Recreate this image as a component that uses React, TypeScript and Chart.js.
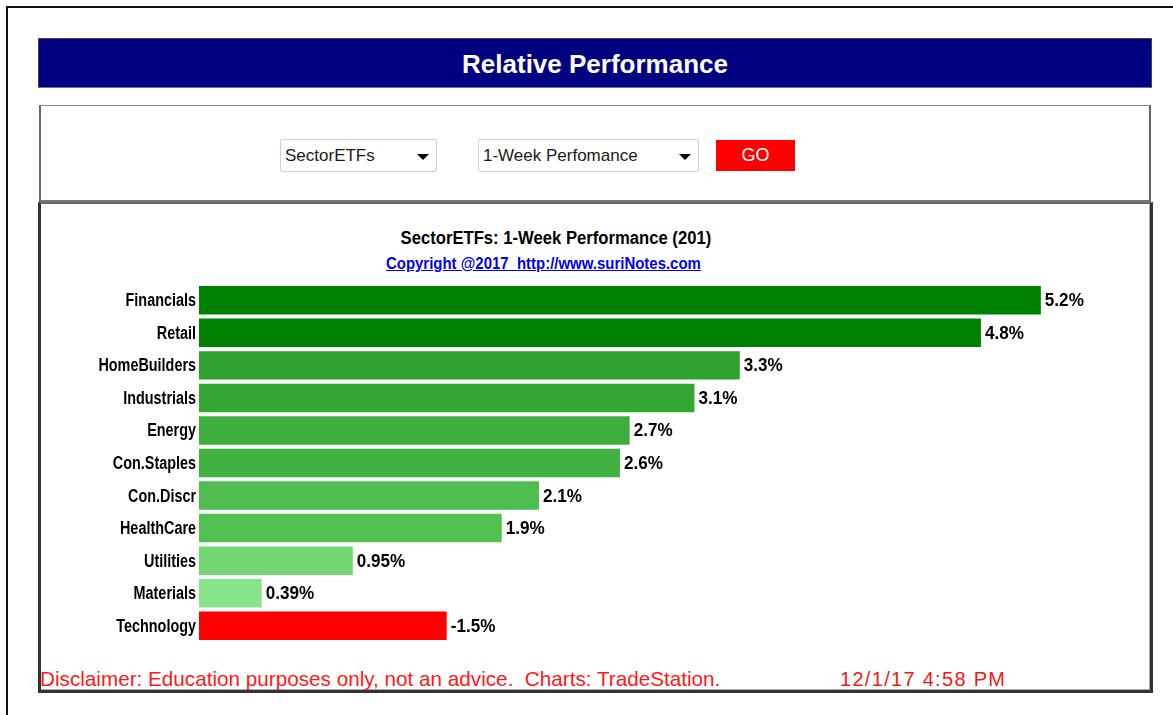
import React, { useEffect, useRef } from "react";
import { Chart, registerables } from "chart.js";

Chart.register(...registerables);

const categories = [
  "Financials",
  "Retail",
  "HomeBuilders",
  "Industrials",
  "Energy",
  "Con.Staples",
  "Con.Discr",
  "HealthCare",
  "Utilities",
  "Materials",
  "Technology",
];

const performance = [5.2, 4.83, 3.34, 3.06, 2.66, 2.6, 2.1, 1.87, 0.95, 0.387, -1.53];

const barColors = [
  "#008000",
  "#008000",
  "#2ea12e",
  "#34a634",
  "#3eaf3e",
  "#41b141",
  "#50bd50",
  "#53bf53",
  "#72d772",
  "#88e488",
  "#ff0000",
];

const xMax = 5.8;

const SANS = '"Liberation Sans", Arial, sans-serif';

const fmt = (v: number) => parseFloat(v.toPrecision(2)).toString() + "%";

const labelsPlugin = {
  id: "labelsPlugin",
  afterDatasetsDraw(chart: any) {
    const ctx = chart.ctx;
    const meta = chart.getDatasetMeta(0);
    const yScale = chart.scales.y;
    const left = chart.chartArea.left;
    ctx.save();
    ctx.font = `bold 18px ${SANS}`;
    ctx.fillStyle = "#000";
    ctx.textBaseline = "middle";
    // category labels (condensed)
    categories.forEach((c, i) => {
      const y = yScale.getPixelForValue(i);
      ctx.save();
      ctx.translate(left - 3, y + 1);
      ctx.scale(0.8, 1);
      ctx.textAlign = "right";
      ctx.fillText(c, 0, 0);
      ctx.restore();
    });
    // value labels
    meta.data.forEach((bar: any, i: number) => {
      ctx.save();
      ctx.translate(bar.x + 4, bar.y + 1);
      ctx.scale(0.95, 1);
      ctx.textAlign = "left";
      ctx.fillText(fmt(performance[i]), 0, 0);
      ctx.restore();
    });
    ctx.restore();
  },
};

function BarChart() {
  const ref = useRef<HTMLCanvasElement | null>(null);
  useEffect(() => {
    if (!ref.current) return;
    const chart = new Chart(ref.current, {
      type: "bar",
      data: {
        labels: categories,
        datasets: [
          {
            data: performance.map((v) => Math.abs(v)),
            backgroundColor: barColors,
            borderWidth: 0,
            barPercentage: 0.875,
            categoryPercentage: 1,
          },
        ],
      },
      options: {
        indexAxis: "y",
        animation: false,
        responsive: false,
        maintainAspectRatio: false,
        layout: { padding: { top: 4, bottom: 4, right: 12, left: 159 } },
        plugins: {
          legend: { display: false },
          tooltip: { enabled: false },
          title: { display: false },
        },
        scales: {
          x: { display: false, min: 0, max: xMax },
          y: { display: false },
        },
      },
      plugins: [labelsPlugin],
    });
    return () => chart.destroy();
  }, []);
  return (
    <canvas
      ref={ref}
      width={1110}
      height={366}
      style={{ position: "absolute", left: 40, top: 280, width: 1110, height: 366 }}
    />
  );
}

function Dropdown({ left, width, text }: { left: number; width: number; text: string }) {
  return (
    <div
      style={{
        position: "absolute",
        left,
        top: 139,
        width,
        height: 33,
        boxSizing: "border-box",
        border: "1px solid #cfcfd6",
        borderRadius: 2,
        background: "#fff",
        fontFamily: SANS,
        fontSize: 17,
        color: "#1a1a1a",
        lineHeight: "31px",
        paddingLeft: 4,
      }}
    >
      {text}
      <div
        style={{
          position: "absolute",
          right: 7,
          top: 14,
          width: 0,
          height: 0,
          borderLeft: "6px solid transparent",
          borderRight: "6px solid transparent",
          borderTop: "6px solid #000",
        }}
      />
    </div>
  );
}

export default function App() {
  useEffect(() => {
    document.body.style.margin = "0";
    document.body.style.overflow = "hidden";
  }, []);
  return (
    <div
      style={{
        position: "fixed",
        left: 0,
        top: 0,
        width: 1173,
        height: 715,
        overflow: "hidden",
        background: "#fff",
      }}
    >
      {/* outer frame */}
      <div
        style={{
          position: "absolute",
          left: 6,
          top: 6,
          width: 1180,
          height: 740,
          border: "2px solid #111",
          boxSizing: "border-box",
        }}
      />
      {/* header */}
      <div
        style={{
          position: "absolute",
          left: 38,
          top: 38,
          width: 1114,
          height: 50,
          background: "#000080",
          borderTop: "1px solid #444",
          borderLeft: "1px solid #444",
          borderRight: "1px solid #444",
          borderBottom: "1px solid #6670b0",
          boxSizing: "border-box",
          color: "#fff",
          fontFamily: SANS,
          fontWeight: "bold",
          fontSize: 26,
          textAlign: "center",
          lineHeight: "50px",
        }}
      >
        Relative Performance
      </div>
      {/* control panel */}
      <div
        style={{
          position: "absolute",
          left: 39,
          top: 105,
          width: 1112,
          height: 98,
          borderTop: "1px solid #888",
          borderLeft: "2px solid #666",
          borderRight: "2px solid #666",
          borderBottom: "3px solid #777",
          boxSizing: "border-box",
        }}
      />
      <Dropdown left={280} width={157} text="SectorETFs" />
      <Dropdown left={478} width={221} text="1-Week Perfomance" />
      <div
        style={{
          position: "absolute",
          left: 716,
          top: 140,
          width: 79,
          height: 31,
          background: "#ff0000",
          color: "#fff",
          fontFamily: SANS,
          fontSize: 18,
          textAlign: "center",
          lineHeight: "31px",
        }}
      >
        GO
      </div>
      {/* chart panel */}
      <div
        style={{
          position: "absolute",
          left: 38,
          top: 202,
          width: 1115,
          height: 491,
          border: "3px solid #333",
          borderTop: "2px solid #666",
          boxSizing: "border-box",
          boxShadow: "inset -1px -1px 0 #aaa",
        }}
      />
      <div
        style={{
          position: "absolute",
          left: 306,
          top: 226,
          width: 500,
          textAlign: "center",
          lineHeight: "24px",
        }}
      >
        <span
          style={{
            display: "inline-block",
            transform: "scaleX(0.925)",
            fontFamily: SANS,
            fontWeight: "bold",
            fontSize: 18,
            color: "#000",
            whiteSpace: "pre",
          }}
        >
          SectorETFs: 1-Week Performance (201)
        </span>
      </div>
      <div
        style={{
          position: "absolute",
          left: 293,
          top: 254,
          width: 500,
          textAlign: "center",
          lineHeight: "20px",
        }}
      >
        <span
          style={{
            display: "inline-block",
            transform: "scaleX(0.935)",
            fontFamily: SANS,
            fontWeight: "bold",
            fontSize: 16,
            color: "#0000ee",
            textDecoration: "underline",
            whiteSpace: "pre",
          }}
        >
          {"Copyright @2017  http://www.suriNotes.com"}
        </span>
      </div>
      <BarChart />
      <div
        style={{
          position: "absolute",
          left: 40,
          top: 667,
          fontFamily: SANS,
          fontSize: 20.7,
          lineHeight: "24px",
          color: "#ff1a1a",
          whiteSpace: "pre",
        }}
      >
        {"Disclaimer: Education purposes only, not an advice.  Charts: TradeStation."}
      </div>
      <div
        style={{
          position: "absolute",
          left: 840,
          top: 667,
          fontFamily: SANS,
          fontSize: 20,
          letterSpacing: 1.3,
          lineHeight: "24px",
          color: "#f01818",
          whiteSpace: "pre",
        }}
      >
        12/1/17 4:58 PM
      </div>
    </div>
  );
}
